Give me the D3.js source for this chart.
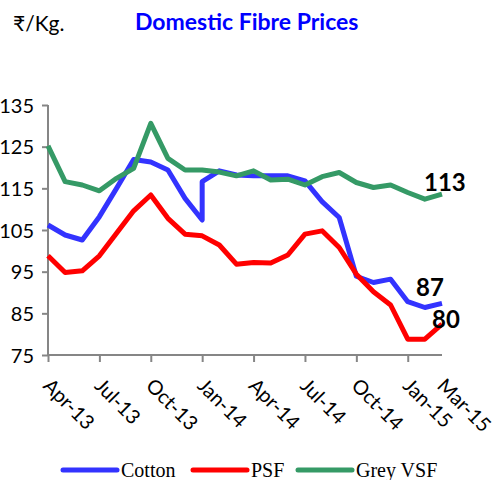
<!DOCTYPE html>
<html>
<head>
<meta charset="utf-8">
<script src="https://cdn.jsdelivr.net/npm/d3@7"></script>
<style>
	body { margin: 0; background: #fff; }
	svg { display: block; }
</style>
</head>
<body>
<svg class="mainsvg" width="496" height="480"></svg>
<script>
// monthly prices, Rs/Kg
var months = ['Apr-13','May-13','Jun-13','Jul-13','Aug-13','Sep-13','Oct-13','Nov-13','Dec-13','Jan-14','Feb-14','Mar-14',
	'Apr-14','May-14','Jun-14','Jul-14','Aug-14','Sep-14','Oct-14','Nov-14','Dec-14','Jan-15','Feb-15','Mar-15'];
// Jan-14 cotton has two readings (drop then jump)
var cotton = [106.2, 103.8, 102.6, 108.2, 115.0, 121.9, 121.3, 119.4, 112.6, [107.4, 116.6], 119.2, 118.2,
	118.0, 118.0, 118.0, 116.8, 111.8, 108.0, 93.9, 92.4, 93.2, 87.8, 86.4, 87.4];
var psf = [98.8, 94.8, 95.2, 98.8, 104.2, 109.6, 113.4, 107.8, 104.0, 103.6, 101.4, 96.8,
	97.2, 97.1, 99.0, 104.0, 104.8, 100.8, 94.4, 90.2, 87.0, 78.8, 78.8, 82.4];
var greyVsf = [125.2, 116.6, 115.8, 114.4, 117.4, 119.8, 130.6, 122.2, 119.4, 119.4, 118.9, 118.0,
	119.2, 117.0, 117.2, 115.8, 117.8, 118.8, 116.4, 115.2, 115.8, 114.0, 112.4, 113.6];
var yTicks = [75, 85, 95, 105, 115, 125, 135];
var xLabelIdx = [0, 3, 6, 9, 12, 15, 18, 21, 23];
var xTickIdx = [0, 3, 6, 9, 12, 15, 18, 21];
var endLabels = ['87', '80', '113'];

var series = [
	{name: 'Cotton', values: cotton, color: '#3333ff', label: endLabels[0], dx: -26, dy: -7},
	{name: 'PSF', values: psf, color: '#ff0000', label: endLabels[1], dx: -10, dy: 4},
	{name: 'Grey VSF', values: greyVsf, color: '#359a66', label: endLabels[2], dx: -18, dy: -3}
];

var svg = d3.select('.mainsvg');

var x = d3.scaleLinear().domain([0, months.length - 1]).range([48, 442]);
var y = d3.scaleLinear().domain([75, 135]).range([355, 105]);

// titles
svg.append('text')
	.attr('x', 13)
	.attr('y', 31)
	.attr('fill', 'black')
	.attr('font-family', 'Lato, "Noto Sans", sans-serif')
	.attr('font-size', '21px')
	.text('₹/Kg.')

svg.append('text')
	.attr('x', 135)
	.attr('y', 30)
	.attr('fill', '#0000ff')
	.attr('font-family', 'Lato, sans-serif')
	.attr('font-size', '23px')
	.attr('font-weight', '700')
	.text('Domestic Fibre Prices')

// y axis
var yAxis = svg.append('g')
	.attr('transform', 'translate(48,0)')
	.call(d3.axisLeft(y).tickValues(yTicks).tickSize(6).tickPadding(8))
yAxis.select('.domain').attr('stroke', '#868686').attr('stroke-width', 2)
yAxis.selectAll('.tick line').attr('stroke', '#868686').attr('stroke-width', 2)
yAxis.selectAll('.tick text')
	.attr('fill', 'black')
	.attr('font-family', 'Lato, sans-serif')
	.attr('font-size', '20px')
	.attr('dy', '0.35em')
yAxis.select('.domain').attr('d', 'M0,' + y(135) + 'V' + y(75))

// x axis
var xAxis = svg.append('g')
	.attr('transform', 'translate(0,' + y(75) + ')')
	.call(d3.axisBottom(x).tickValues(xTickIdx).tickSize(7).tickFormat(''))
xAxis.select('.domain').attr('stroke', '#868686').attr('stroke-width', 2)
	.attr('d', 'M' + x(0) + ',0H' + x(months.length - 1))
xAxis.selectAll('.tick line').attr('stroke', '#868686').attr('stroke-width', 2)

svg.append('g')
	.selectAll('text')
	.data(xLabelIdx)
	.join('text')
	.attr('transform', function (i) { return 'translate(' + (x(i) - 6) + ',' + 387 + ') rotate(45)'; })
	.attr('fill', 'black')
	.attr('font-family', 'Lato, sans-serif')
	.attr('font-size', '20px')
	.style('text-anchor', 'start')
	.text(function (i) { return months[i]; })

// lines
var line = d3.line()
	.x(function (d) { return x(d.i); })
	.y(function (d) { return y(d.v); });

series.forEach(function (s) {
	var pts = s.values.flatMap(function (v, i) {
		return [].concat(v).map(function (val) { return {i: i, v: val}; });
	});
	svg.append('path')
		.datum(pts)
		.attr('fill', 'none')
		.attr('stroke', s.color)
		.attr('stroke-width', 5)
		.attr('stroke-linejoin', 'round')
		.attr('d', line)
	var last = pts[pts.length - 1];
	svg.append('text')
		.attr('x', x(last.i) + s.dx)
		.attr('y', y(last.v) + s.dy)
		.attr('fill', 'black')
		.attr('font-family', 'Lato, sans-serif')
		.attr('font-size', '24px')
		.attr('font-weight', '700')
		.text(s.label)
});

// legend
var legendX = [63, 193, 298];
var legend = svg.append('g')
	.selectAll('g')
	.data(series)
	.join('g')
	.attr('transform', function (d, k) { return 'translate(' + legendX[k] + ',470)'; })
legend.append('line')
	.attr('x1', 0)
	.attr('x2', 54)
	.attr('stroke', function (d) { return d.color; })
	.attr('stroke-width', 5)
	.attr('stroke-linecap', 'round')
legend.append('text')
	.attr('x', 58)
	.attr('y', 7)
	.attr('fill', 'black')
	.attr('font-family', '"Liberation Serif", serif')
	.attr('font-size', '20px')
	.text(function (d) { return d.name; })
</script>
</body>
</html>
